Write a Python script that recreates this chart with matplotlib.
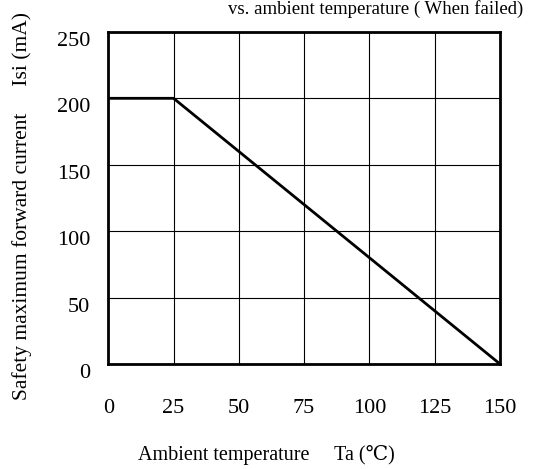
import numpy as np
import matplotlib.pyplot as plt
from matplotlib.transforms import ScaledTranslation

plt.rcParams['font.family'] = ['Liberation Serif', 'DejaVu Serif']

# derating curve: ambient temperature vs safety max forward current
temp = [0, 25, 150]
current = [200, 200, 0]
x_ticks = [0, 25, 50, 75, 100, 125, 150]
y_ticks = [0, 50, 100, 150, 200, 250]

fig = plt.figure(figsize=(5.44, 4.69), dpi=100)
ax = fig.add_axes([0.199, 0.224, 0.72, 0.708])

ax.plot(temp, current, color='black', lw=2.0, solid_capstyle='butt')

ax.set_xlim(0, 150)
ax.set_ylim(0, 250)
ax.set_xticks(x_ticks)
ax.set_yticks(y_ticks)
ax.grid(True, color='black', lw=0.8)
ax.tick_params(length=0, labelsize=16)
ax.tick_params(axis='x', pad=25)
ax.tick_params(axis='y', pad=13)
for s in ax.spines.values():
    s.set_linewidth(2.0)

# y tick labels sit a little below their grid lines in the original
shift = ScaledTranslation(0, -7 / 100, fig.dpi_scale_trans)
for lab in ax.get_yticklabels():
    lab.set_transform(lab.get_transform() + shift)

fig.text(0.49, 0.03, 'Ambient temperature     Ta (\u2103)', fontsize=14.5,
         ha='center', va='center')
fig.text(0.04, 0.56, 'Safety maximum forward current     Isi (mA)', fontsize=15.5,
         ha='center', va='center', rotation=90)

# title: only its second line shows at the very top
fig.text(0.69, 0.999, 'vs. ambient temperature ( When failed)', fontsize=13.5,
         ha='center', va='top')

fig.savefig('out.png', dpi=100)
